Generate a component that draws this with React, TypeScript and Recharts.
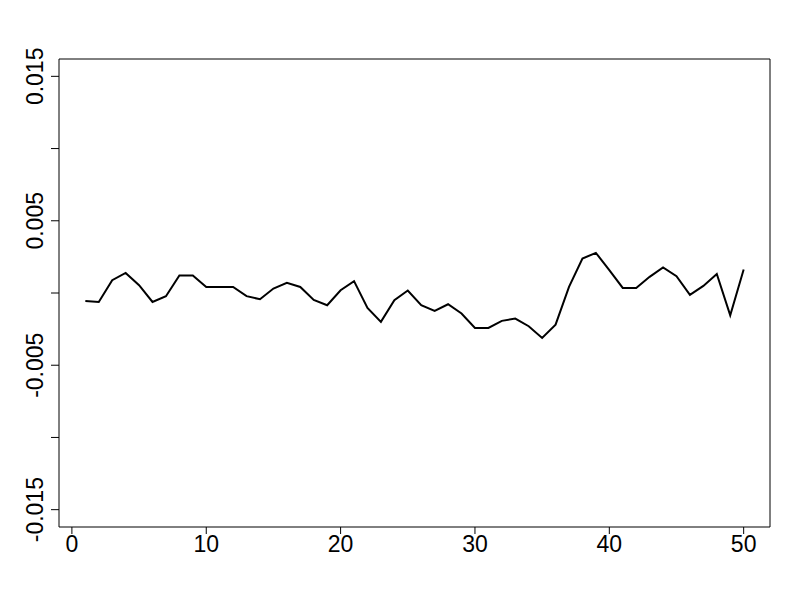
import React from "react";
import { LineChart, Line, XAxis, YAxis, ReferenceArea } from "recharts";

const xValues: number[] = Array.from({ length: 50 }, (_, i) => i + 1);
const seriesValues: number[] = [
  -0.00055, -0.00062, 0.00089, 0.00139, 0.00054, -0.00062, -0.00022, 0.00121, 0.00121, 0.00042,
  0.00042, 0.00042, -0.00022, -0.00043, 0.00031, 0.0007, 0.00042, -0.00048, -0.00085, 0.00019,
  0.00082, -0.00103, -0.002, -0.0005, 0.00017, -0.00085, -0.00124, -0.00078, -0.00142, -0.00242,
  -0.00242, -0.00193, -0.00177, -0.0023, -0.00311, -0.00219, 0.00042, 0.00239, 0.00278, 0.00158,
  0.00035, 0.00035, 0.00112, 0.00177, 0.00116, -0.00013, 0.00049, 0.00132, -0.00154, 0.00163,
];
const xTicks: number[] = [0, 10, 20, 30, 40, 50];
const yTicks: number[] = [-0.015, -0.01, -0.005, 0, 0.005, 0.01, 0.015];
const yLabels: Record<string, string> = {
  "-0.015": "-0.015",
  "-0.005": "-0.005",
  "0.005": "0.005",
  "0.015": "0.015",
};

const data = xValues.map((x, i) => ({ x, y: seriesValues[i] }));

const FONT = "'Liberation Sans', Arial, sans-serif";
const FS = 23;

const XTick = (props: any) => {
  const { x, y, payload } = props;
  return (
    <text x={x} y={y} dy={18} textAnchor="middle" fontFamily={FONT} fontSize={FS} fill="#000">
      {String(payload.value)}
    </text>
  );
};

const YTick = (props: any) => {
  const { x, y, payload } = props;
  const key = String(Math.round(payload.value * 1000) / 1000);
  const label = yLabels[key] || "";
  if (!label) return <g />;
  const bx = x - 8;
  return (
    <text
      x={bx}
      y={y}
      textAnchor="middle"
      transform={`rotate(-90, ${bx}, ${y})`}
      fontFamily={FONT}
      fontSize={FS}
      fill="#000"
    >
      {label}
    </text>
  );
};

export default function App() {
  return (
    <div style={{ position: "absolute", left: 0, top: 0, width: 800, height: 600, background: "#fff" }}>
      <LineChart width={800} height={600} data={data} margin={{ top: 59, right: 30, bottom: 0, left: 0 }}>
        <XAxis
          dataKey="x"
          type="number"
          domain={[-0.96, 51.96]}
          ticks={xTicks}
          allowDataOverflow
          height={73}
          axisLine={false}
          tickLine={{ stroke: "#000", strokeWidth: 1 }}
          tickSize={7}
          tickMargin={0}
          tick={<XTick />}
        />
        <YAxis
          type="number"
          domain={[-0.0162, 0.0162]}
          ticks={yTicks}
          allowDataOverflow
          width={59}
          axisLine={false}
          tickLine={{ stroke: "#000", strokeWidth: 1 }}
          tickSize={8}
          tickMargin={0}
          tick={<YTick />}
        />
        <ReferenceArea
          x1={-0.96}
          x2={51.96}
          y1={-0.0162}
          y2={0.0162}
          fill="none"
          stroke="#000"
          strokeWidth={1}
          fillOpacity={0}
        />
        <Line
          dataKey="y"
          type="linear"
          stroke="#000"
          strokeWidth={2}
          dot={false}
          isAnimationActive={false}
        />
      </LineChart>
    </div>
  );
}
